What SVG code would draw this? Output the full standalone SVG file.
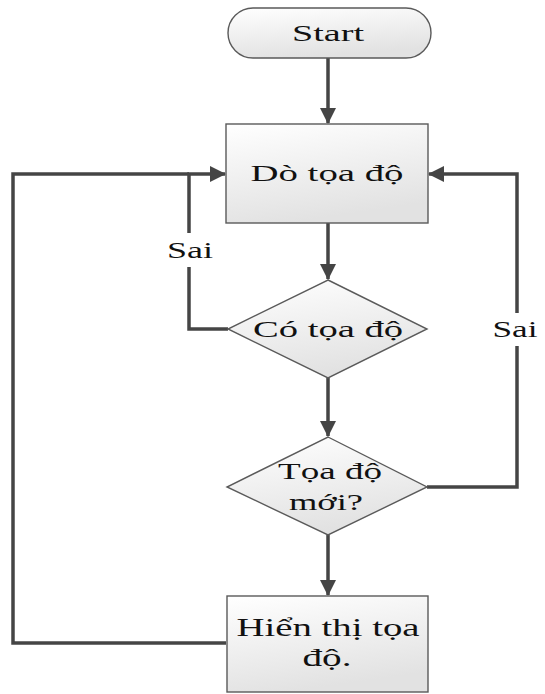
<svg xmlns="http://www.w3.org/2000/svg" width="545" height="694" viewBox="0 0 545 694">
<style>
.shape{fill:url(#g);stroke:#5a5a5a;stroke-width:1.4}
.lbl{font-family:"Liberation Serif","Times New Roman",serif;font-size:24px;fill:#111;text-anchor:middle}
.big{font-size:26px}
.con{fill:none;stroke:#454545;stroke-width:3.5}
</style>
<defs>
<linearGradient id="g" x1="0" y1="0" x2="0.3" y2="1">
<stop offset="0" stop-color="#ffffff"/>
<stop offset="1" stop-color="#e2e2e2"/>
</linearGradient>
<marker id="arr" markerUnits="userSpaceOnUse" markerWidth="16" markerHeight="16" refX="15" refY="8" orient="auto">
<path d="M0,0 L16,8 L0,16 z" fill="#454545"/>
</marker>
</defs>
<rect width="545" height="694" fill="#fff"/>
<g id="connectors">
<path class="con" d="M328,58 V123" marker-end="url(#arr)"/>
<path class="con" d="M328,223 V279" marker-end="url(#arr)"/>
<path class="con" d="M328,378 V436" marker-end="url(#arr)"/>
<path class="con" d="M328,535 V595" marker-end="url(#arr)"/>
<path class="con" d="M228,329 H189 V267"/>
<path class="con" d="M189,233 V174 H225" marker-end="url(#arr)"/>
<path class="con" d="M427,487 H517 V346"/>
<path class="con" d="M517,313 V174 H429" marker-end="url(#arr)"/>
<path class="con" d="M226,643 H13 V174 H189"/>
<text class="lbl" x="190" y="258" textLength="46" lengthAdjust="spacingAndGlyphs">Sai</text>
<text class="lbl" x="515" y="337" textLength="45" lengthAdjust="spacingAndGlyphs">Sai</text>
</g>
<g id="start">
<rect class="shape" x="228" y="8" width="203" height="50" rx="25" ry="25"/>
<text class="lbl" x="328" y="41" textLength="72" lengthAdjust="spacingAndGlyphs">Start</text>
</g>
<g id="do-toa-do">
<rect class="shape" x="226" y="124" width="202" height="99"/>
<text class="lbl" x="327" y="181" textLength="153" lengthAdjust="spacingAndGlyphs">Dò tọa độ</text>
</g>
<g id="co-toa-do">
<polygon class="shape" points="328,280 427,329 328,378 228,329"/>
<text class="lbl" x="328" y="337" textLength="150" lengthAdjust="spacingAndGlyphs">Có tọa độ</text>
</g>
<g id="toa-do-moi">
<polygon class="shape" points="328,437 427,487 328,535 227,487"/>
<text class="lbl" x="330" y="479" textLength="104" lengthAdjust="spacingAndGlyphs">Tọa độ</text>
<text class="lbl" x="326" y="510" textLength="74" lengthAdjust="spacingAndGlyphs">mới?</text>
</g>
<g id="hien-thi">
<rect class="shape" x="227" y="596" width="201" height="96"/>
<text class="lbl big" x="328" y="636" textLength="183" lengthAdjust="spacingAndGlyphs">Hiển thị tọa</text>
<text class="lbl big" x="327" y="666" textLength="49" lengthAdjust="spacingAndGlyphs">độ.</text>
</g>
</svg>
